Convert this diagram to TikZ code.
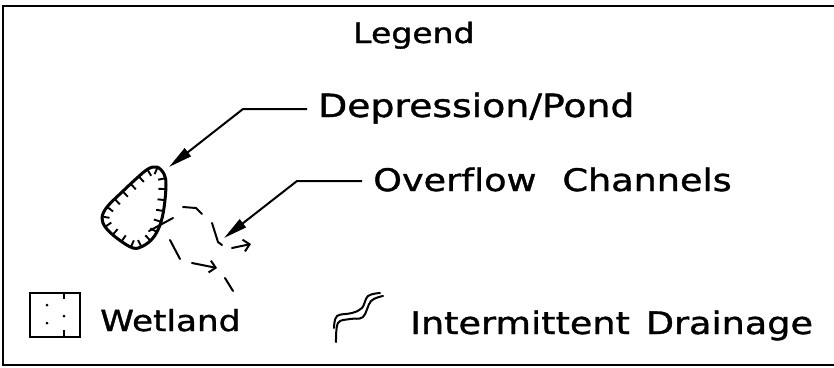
\documentclass[tikz,border=0pt]{standalone}
\usepackage{fontspec}
\newfontfamily\lab{DejaVu Sans}[FakeStretch=1.18,FakeBold=1.2,Ligatures={NoCommon}]
\usetikzlibrary{arrows.meta,decorations.markings}
\begin{document}
\begin{tikzpicture}[x=1pt,y=-1pt,
  lbl/.style={anchor=base west,inner sep=0pt,font=\lab\fontsize{32}{32}\selectfont},
  leader/.style={line width=2pt,-{Triangle[length=24pt,width=10pt]}},
  chan/.style={line width=2pt,line cap=round},
  chanarrow/.style={chan,-{Straight Barb[length=6pt,width=12pt,line width=2pt]}},
  frame/.style={line width=1.6pt},
  pondline/.style={line width=3pt,line join=round}]
\useasboundingbox (0,0) rectangle (834,367);
% frame
\draw[frame] (834,6) -- (3,6) -- (3,365) -- (834,365);

% texts
\node[lbl,font=\lab\fontsize{28}{28}\selectfont] (legend) at (353,43) {Legend};
\node[lbl] (dp) at (318,117) {Depression/Pond};
\node[lbl,font=\lab\fontsize{31}{31}\selectfont] (oc) at (373,191) {Overflow\hspace{26pt}Channels};
\node[lbl,font=\lab\fontsize{29}{29}\selectfont] (wet) at (100,331) {Wetland};
\node[lbl,font=\lab\fontsize{31}{31}\selectfont] (idr) at (410,334) {Intermittent\hspace{16pt}Drainage};

% leaders
\coordinate (dpstart) at (307,109);
\coordinate (dpcorner) at (243,109);
\coordinate (pondtip) at (169,167);
\draw[leader] (dpstart) -- (dpcorner) -- (pondtip);
\coordinate (ocstart) at (362,181);
\coordinate (occorner) at (297,181);
\coordinate (chantip) at (224,238);
\draw[leader] (ocstart) -- (occorner) -- (chantip);

% pond
\draw[pondline,postaction={decorate},
  decoration={markings,mark=between positions 0.02 and 1 step 11pt with {\draw[line width=1.9pt] (0,0) -- (0,-7.5pt);}}]
  plot[smooth cycle,tension=0.6] coordinates {(157,167) (164,174) (166,185) (164,208) (160,225) (153,238) (143,246) (133,248) (118,239) (106,228) (102,218) (107,207) (121,193) (137,178) (148,169)};

% overflow channels (dashed)
\draw[chan] (149,231) -- (173,218);
\draw[chan] (183,207) -- (196,208) -- (202,214);
\draw[chan] (212,223) -- (218,242) -- (222,245);
\draw[chanarrow] (232,248) -- (251,244);
\draw[chan] (170,240) -- (180,259);
\draw[chanarrow] (192,263) -- (217,268);
\draw[chan] (225,278) -- (233,291);

% wetland symbol
\draw[frame] (30,293) rectangle (80,337);
\fill (47,305) circle (1.5pt);
\fill (47,323) circle (1.5pt);
\fill (64,316) circle (1.5pt);
\draw[line width=2pt] (64,294) -- (64,299);
\draw[line width=2pt] (64,330) -- (64,336);

% intermittent drainage symbol
\draw[chan] plot[smooth,tension=0.6] coordinates {(334,328) (337,316) (352,313) (362,308) (368,296) (380,293)};
\draw[chan] plot[smooth,tension=0.6] coordinates {(336,342) (338,323) (350,319) (363,317) (371,301) (383,296)};
\end{tikzpicture}
\end{document}
